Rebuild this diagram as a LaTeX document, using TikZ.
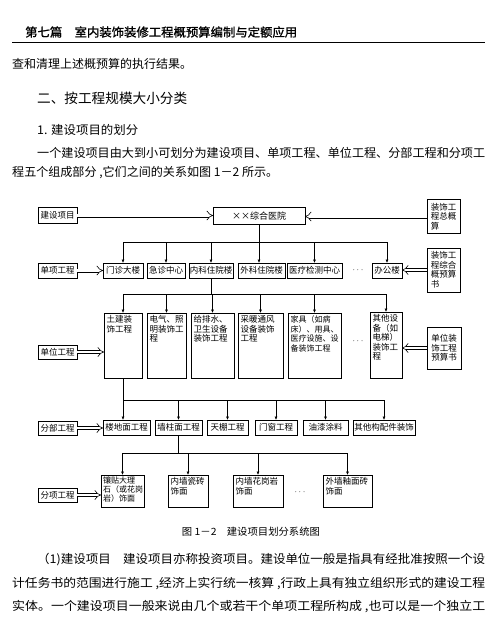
\documentclass[tikz,border=0pt]{standalone}
\usepackage{fontspec}
\usepackage{graphicx}
\usetikzlibrary{arrows.meta}
\newfontfamily\cjk{Noto Sans CJK SC}
\newfontfamily\cjkb[FakeBold=1.2]{Noto Sans CJK SC}
\newcommand\fitw[2]{\resizebox{#1}{\height}{#2}}
\begin{document}
\begin{tikzpicture}[x=1pt,y=-1pt,
 box/.style={draw, line width=1pt, inner sep=0pt, outer sep=0pt, anchor=north west, align=left, font=\cjk\fontsize{8.5}{9.5}\selectfont},
 intext/.style={anchor=north west, inner sep=2.5pt, align=left, font=\cjk\fontsize{8.5}{9.5}\selectfont},
 tl/.style={label={[intext]north west:#1}},
 conn/.style={line width=0.6pt},
 arr/.style={line width=0.6pt, -{Latex[length=3.5pt,width=3pt]}},
 dbl/.style={double, double distance=2.8pt, line width=0.6pt, -{Implies}},
 ptext/.style={anchor=west, inner sep=0pt, font=\cjk\fontsize{12}{14}\selectfont},
 dotsn/.style={inner sep=0pt, font=\fontsize{9}{9}\selectfont},
]
\fill[white] (0,0) rectangle (500,620);
\useasboundingbox (0,0) rectangle (500,620);

% ---------- page text ----------
\node[ptext, font=\cjkb\fontsize{12}{14}\selectfont] (hdr) at (25,32) {\fitw{272pt}{第七篇　室内装饰装修工程概预算编制与定额应用}};
\draw[line width=1pt] (12,43) -- (485,43);
\node[ptext] (t1) at (12,64) {\fitw{180pt}{查和清理上述概预算的执行结果。}};
\node[ptext, font=\cjk\fontsize{13.6}{15}\selectfont] (h2) at (37,98) {\fitw{150pt}{二、按工程规模大小分类}};
\node[ptext] (h3) at (37,130) {\fitw{101pt}{1. 建设项目的划分}};
\node[ptext] (p1) at (37,153) {\fitw{448pt}{一个建设项目由大到小可划分为建设项目、单项工程、单位工程、分部工程和分项工}};
\node[ptext] (p2) at (12,173) {\fitw{266pt}{程五个组成部分 ,它们之间的关系如图 1－2 所示。}};
\node[inner sep=0pt, font=\cjk\fontsize{10}{12}\selectfont] (cap) at (251,532) {\fitw{138pt}{图 1－2　建设项目划分系统图}};
\node[ptext] (b1) at (37,560) {\fitw{448pt}{（1)建设项目　建设项目亦称投资项目。建设单位一般是指具有经批准按照一个设}};
\node[ptext] (b2) at (12,584) {\fitw{473pt}{计任务书的范围进行施工 ,经济上实行统一核算 ,行政上具有独立组织形式的建设工程}};
\node[ptext] (b3) at (12,607) {\fitw{473pt}{实体。一个建设项目一般来说由几个或若干个单项工程所构成 ,也可以是一个独立工}};

% ---------- row 1 ----------
\node[box, minimum width=39pt, minimum height=15pt] (jsxm) at (38,208) {建设项目};
\node[box, minimum width=92pt, minimum height=16pt, font=\cjk\fontsize{9}{10}\selectfont] (hosp) at (213,208) {××综合医院};
\node[box, minimum width=33pt, minimum height=33pt] (zgs) at (427,200) {装饰工\\程总概\\算};

% ---------- row 2 ----------
\node[box, minimum width=39pt, minimum height=15pt] (dxgc) at (38,263) {单项工程};
\node[box, minimum width=40pt, minimum height=15pt] (mz) at (103,263) {门诊大楼};
\node[box, minimum width=38pt, minimum height=15pt] (jz) at (147,263) {急诊中心};
\node[box, minimum width=44pt, minimum height=15pt] (nk) at (189,263) {内科住院楼};
\node[box, minimum width=47pt, minimum height=15pt] (wk) at (238,263) {外科住院楼};
\node[box, minimum width=55pt, minimum height=15pt] (yl) at (287,263) {医疗检测中心};
\node[dotsn] (d2) at (358,270) {$\cdots$};
\node[box, minimum width=30pt, minimum height=15pt] (bgl) at (372,263) {办公楼};
\node[box, minimum width=33pt, minimum height=44pt] (zhs) at (427,248) {装饰工\\程综合\\概预算\\书};
\coordinate (b2) at (0,242);

% ---------- row 3 ----------
\node[box, minimum width=39pt, minimum height=14pt] (dwgc) at (38,345) {单位工程};
\node[box, minimum width=38pt, minimum height=65pt, tl={土建装\\饰工程}] (u1) at (104,313) {};
\node[box, minimum width=39pt, minimum height=65pt, tl={电气、照\\明装饰工\\程}] (u2) at (147,313) {};
\node[box, minimum width=43pt, minimum height=65pt, tl={给排水、\\卫生设备\\装饰工程}] (u3) at (191,313) {};
\node[box, minimum width=45pt, minimum height=65pt, tl={采暖通风\\设备装饰\\工程}] (u4) at (238,313) {};
\node[box, minimum width=53pt, minimum height=65pt, label={[intext, font=\cjk\fontsize{8}{9.5}\selectfont]north west:{家具（如病\\床）、用具、\\医疗设施、设\\备装饰工程}}] (u5) at (288,313) {};
\node[dotsn] (d3) at (358,341) {$\cdots$};
\node[box, minimum width=32pt, minimum height=66pt, tl={其他设\\备（如\\电梯）\\装饰工\\程}] (u6) at (370,312) {};
\node[box, minimum width=34pt, minimum height=42pt] (ysb) at (427,327) {单位装\\饰工程\\预算书};
\coordinate (b3) at (0,294);

% ---------- row 4 ----------
\node[box, minimum width=39pt, minimum height=14pt] (fbgc) at (38,421) {分部工程};
\node[box, minimum width=47pt, minimum height=15pt] (fb1) at (103,420) {楼地面工程};
\node[box, minimum width=47pt, minimum height=15pt] (fb2) at (155,420) {墙柱面工程};
\node[box, minimum width=41pt, minimum height=15pt] (fb3) at (207,420) {天棚工程};
\node[box, minimum width=42pt, minimum height=15pt] (fb4) at (255,420) {门窗工程};
\node[box, minimum width=45pt, minimum height=15pt] (fb5) at (303,420) {油漆涂料};
\node[box, minimum width=62pt, minimum height=15pt] (fb6) at (353,420) {其他构配件装饰};
\coordinate (b4) at (0,400);

% ---------- row 5 ----------
\node[box, minimum width=39pt, minimum height=14pt] (fxgc) at (38,488) {分项工程};
\node[box, minimum width=43pt, minimum height=32pt, label={[intext, inner sep=2pt, font=\cjk\fontsize{8}{8.6}\selectfont]north west:{镶贴大理\\石（或花岗\\岩）饰面}}] (fx1) at (101,475) {};
\node[box, minimum width=40pt, minimum height=32pt, tl={内墙瓷砖\\饰面}] (fx2) at (168,475) {};
\node[box, minimum width=50pt, minimum height=32pt, tl={内墙花岗岩\\饰面}] (fx3) at (233,475) {};
\node[dotsn] (d5) at (300,492) {$\cdots$};
\node[box, minimum width=49pt, minimum height=32pt, tl={外墙釉面砖\\饰面}] (fx4) at (323,475) {};
\coordinate (b5) at (0,453);

% ---------- connectors ----------
\draw[dbl] (jsxm.east) -- (jsxm.east -| hosp.west);
\draw[dbl] (zgs.west) -- (zgs.west -| hosp.east);
\draw[dbl] (dxgc.east) -- (dxgc.east -| mz.west);
\draw[dbl] (zhs.west) -- (zhs.west -| bgl.east);
\draw[dbl] (dwgc.east) -- (dwgc.east -| u1.west);
\draw[dbl] (ysb.west) -- (ysb.west -| u6.east);
\draw[dbl] (fbgc.east) -- (fbgc.east -| fb1.west);
\draw[dbl] (fxgc.east) -- (fxgc.east -| fx1.west);

% hospital -> single works
\draw[arr] (hosp.south) -- (hosp.south |- wk.north);
\draw[conn] (mz.north |- b2) -- (bgl.north |- b2);
\foreach \n in {mz,jz,nk,yl,bgl} \draw[arr] (\n.north |- b2) -- (\n.north);

% single work -> unit works
\draw[conn] (nk.south) -- (nk.south |- b3);
\draw[conn] (u1.north |- b3) -- (u6.north |- b3);
\foreach \n in {u1,u2,u3,u4,u5,u6} \draw[arr] (\n.north |- b3) -- (\n.north);

% unit work -> sub works
\draw[arr] (u1.south) -- (u1.south |- fb1.north);
\draw[conn] (u1.south |- b4) -- (fb6.north |- b4);
\foreach \n in {fb2,fb3,fb4,fb5,fb6} \draw[arr] (\n.north |- b4) -- (\n.north);

% sub work -> items
\draw[conn] (fb2.south) -- (fb2.south |- b5);
\draw[conn] (fx1.north |- b5) -- (fx4.north |- b5);
\foreach \n in {fx1,fx2,fx3,fx4} \draw[arr] (\n.north |- b5) -- (\n.north);
\end{tikzpicture}
\end{document}
